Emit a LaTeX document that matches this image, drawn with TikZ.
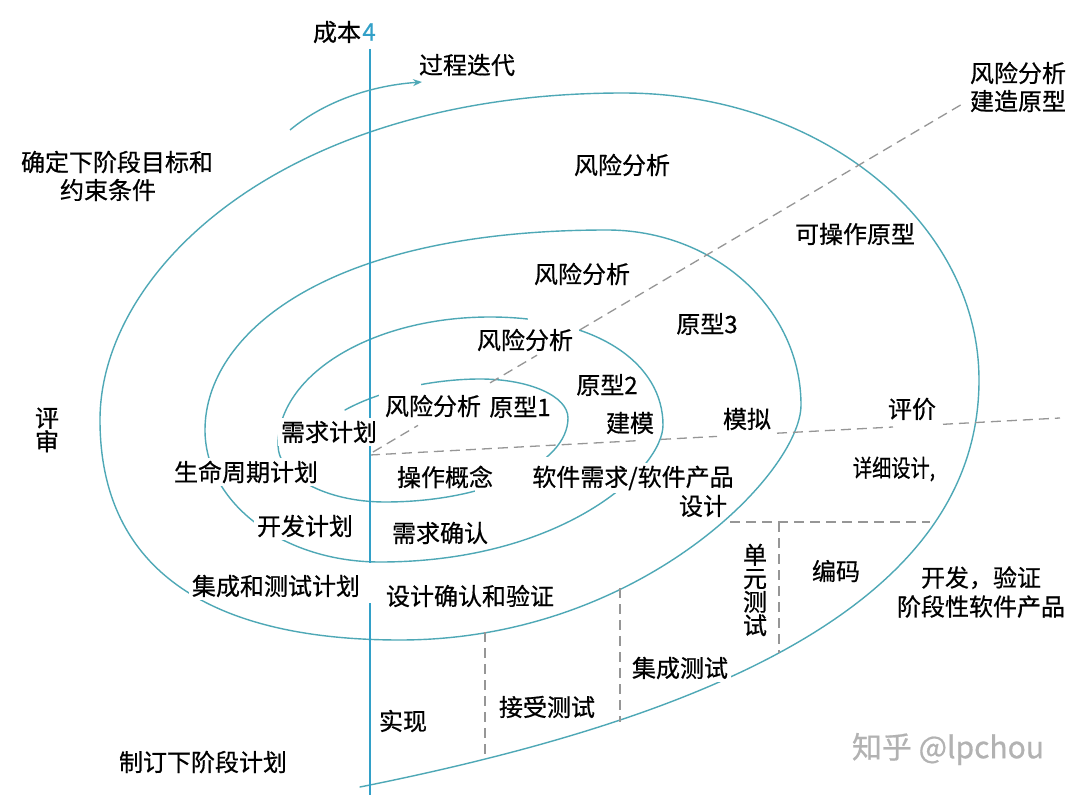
\documentclass[tikz,border=0pt]{standalone}
\usepackage{fontspec}
\usepackage{graphicx}
\setmainfont{Noto Sans CJK SC}[FakeBold=0.6]
\usetikzlibrary{arrows.meta}
\definecolor{spiralc}{RGB}{78,168,182}
\definecolor{axisc}{RGB}{50,160,200}
\definecolor{dashc}{RGB}{150,150,150}
\begin{document}
\begin{tikzpicture}[x=1pt,y=-1pt,
  lbl/.style={font=\fontsize{24}{28}\selectfont, inner sep=1pt, text=black},
  gap/.style={lbl, fill=white, inner sep=3pt},
  vlbl/.style={font=\fontsize{24}{23.5}\selectfont, inner sep=1pt, align=center, text=black},
  spiral/.style={draw=spiralc, line width=1.4pt, line cap=round},
  patch/.style={fill=white},
  dsh/.style={draw=dashc, line width=1.3pt, dash pattern=on 10pt off 6pt}]
\fill[white] (0,0) rectangle (1080,797);
\useasboundingbox (0,0) rectangle (1080,797);

% spiral (clockwise, from the centre outwards)
\coordinate (s0) at (345,410);
\coordinate (sE) at (360,787);
\draw[spiral] (s0)
  .. controls (385,388) and (440,379) .. (480,379)
  .. controls (529,379) and (568,396) .. (568,418)
  .. controls (568,464) and (486,502) .. (385,502)
  .. controls (326,502) and (278,476) .. (278,445)
  .. controls (278,374) and (373,317) .. (490,317)
  .. controls (600,317) and (663,365) .. (663,425)
  .. controls (663,469) and (563,562) .. (380,562)
  .. controls (283,562) and (205,503) .. (205,430)
  .. controls (205,335) and (324,230) .. (607,230)
  .. controls (714,230) and (801,308) .. (801,405)
  .. controls (801,472) and (640,640) .. (400,640)
  .. controls (213,640) and (100,572) .. (100,420)
  .. controls (100,269) and (286,93) .. (623,93)
  .. controls (820,93) and (979,222) .. (979,380)
  .. controls (979,610) and (690,721) .. (sE);

% breaks in the spiral
\fill[patch] (379,377) rectangle (421,402);
\fill[patch] (528,309) rectangle (579,337);
\fill[patch] (475,457) rectangle (552,496);

% dashed guide lines
\coordinate (h0) at (370,455); \coordinate (h1) at (637,440.7);
\coordinate (h2) at (661,439.4); \coordinate (h3) at (717,436.4);
\coordinate (h4) at (777,433.2); \coordinate (h5) at (893,427);
\coordinate (h6) at (943,424.3); \coordinate (h7) at (1060,418);
\draw[dsh] (h0) -- (h1); \draw[dsh] (h2) -- (h3);
\draw[dsh] (h4) -- (h5); \draw[dsh] (h6) -- (h7);
\coordinate (d0) at (373,452); \coordinate (d1) at (418,425.4);
\coordinate (d2) at (490,382.9); \coordinate (d3) at (537,355.2);
\coordinate (d4) at (580,329.8); \coordinate (d5) at (963,103.6);
\draw[dsh] (d0) -- (d1); \draw[dsh] (d2) -- (d3); \draw[dsh] (d4) -- (d5);
\coordinate (b0) at (730,522); \coordinate (b1) at (930,522);
\draw[dsh] (b0) -- (b1);
\coordinate (u0) at (779,522); \coordinate (u1) at (779,653);
\draw[dsh] (u0) -- (u1);
\coordinate (v0) at (620,588); \coordinate (v1) at (620,722);
\draw[dsh] (v0) -- (v1);
\coordinate (w0) at (485,632); \coordinate (w1) at (485,760);
\draw[dsh] (w0) -- (w1);

% axis
\coordinate (ax0) at (370,49); \coordinate (ax1) at (370,563);
\coordinate (ax2) at (370,603); \coordinate (ax3) at (370,795);
\draw[axisc, line width=1.6pt] (ax0) -- (ax1);
\draw[axisc, line width=1.6pt] (ax2) -- (ax3);

% iteration arrow
\coordinate (ar0) at (290,130); \coordinate (ar1) at (422,82);
\draw[spiral, line cap=butt, -{Stealth[length=9pt,width=7pt]}] (ar0) .. controls (320,105) and (365,86) .. (ar1);

% labels
\node[lbl] (cb) at (337,32) {成本};
\node[lbl, text=axisc, anchor=west, inner sep=0pt] (cb4) at (cb.east) {4};
\node[lbl] (gcdd) at (467,65) {过程迭代};
\node[lbl, align=center] (fxjz) at (1018,87) {风险分析\\建造原型};
\node[lbl] (qd1) at (117,162) {确定下阶段目标和};
\node[lbl] (qd2) at (108,190) {约束条件};
\node[lbl] (fx4) at (622,165) {风险分析};
\node[lbl] (kcz) at (855,234) {可操作原型};
\node[lbl] (fx3) at (582,274) {风险分析};
\node[lbl] (yx3) at (707,324) {原型3};
\node[lbl] (fx2) at (525,340) {风险分析};
\node[lbl] (yx2) at (607,385) {原型2};
\node[lbl] (fx1) at (433,406) {风险分析};
\node[lbl] (yx1) at (520,407) {原型1};
\node[lbl] (jm) at (630,423) {建模};
\node[lbl] (mn) at (747,419) {模拟};
\node[lbl] (pj) at (912,409) {评价};
\node[gap] (xqjh) at (329,432) {需求计划};
\node[vlbl] (ps) at (47,430) {评\\审};
\node[gap] (smzq) at (246,472) {生命周期计划};
\node[lbl] (czgn) at (445,477) {操作概念};
\node[gap] (rjxq) at (633,478) {软件需求/软件产品};
\node[lbl] (sj) at (703,506) {设计};
\node[lbl] (xxsj) at (894,469) {\scalebox{0.8}[1]{详细设计,}};
\node[gap] (kfjh) at (305,526) {开发计划};
\node[lbl] (xqqr) at (440,533) {需求确认};
\node[gap] (jchcs) at (276,586) {集成和测试计划};
\node[lbl] (sjqr) at (470,596) {设计确认和验证};
\node[vlbl] (dycs) at (755,590) {单\\元\\测\\试};
\node[lbl] (bm) at (836,571) {编码};
\node[lbl, align=center, font=\fontsize{24}{29}\selectfont] (kfyz) at (981,592) {开发，验证\\阶段性软件产品};
\node[gap] (jccs) at (680,668) {集成测试};
\node[lbl] (jscs) at (547,707) {接受测试};
\node[lbl] (sx) at (403,721) {实现};
\node[lbl] (zd) at (203,762) {制订下阶段计划};
\node[lbl, font=\fontsize{30}{34}\selectfont, text=black!30] (wm) at (948,749) {知乎 @lpchou};
\end{tikzpicture}
\end{document}
